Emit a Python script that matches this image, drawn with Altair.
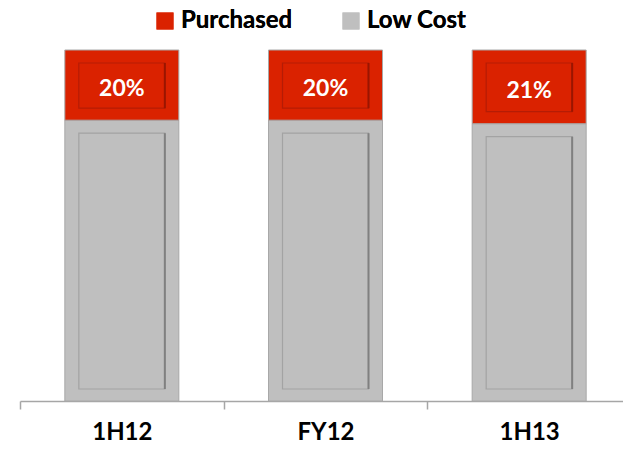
import altair as alt
import pandas as pd

categories = ["1H12", "FY12", "1H13"]
purchased = [0.20, 0.20, 0.21]
low_cost = [0.80, 0.80, 0.79]
series_names = ["Purchased", "Low Cost"]
fill_colors = ["#DA2200", "#BFBFBF"]
inner_stroke = ["#B51C05", "#A3A3A3"]
shadow_colors = ["#9A1500", "#808080"]

rows = []
for c, p, l in zip(categories, purchased, low_cost):
    rows.append({"cat": c, "series": "Low Cost", "start": 0.0, "end": l, "value": l})
    rows.append({"cat": c, "series": "Purchased", "start": l, "end": l + p, "value": p})
df = pd.DataFrame(rows)

FONT = "Lato"

x = alt.X("cat:N", sort=categories, title=None,
          scale=alt.Scale(range=[0, 611], paddingInner=0, paddingOuter=0),
          axis=alt.Axis(labelAngle=0, labelFont=FONT, labelFontWeight="bold",
                        labelFontSize=24, labelColor="#000000", labelPadding=11,
                        domainColor="#A6A6A6", domainWidth=1.5, tickColor="#A6A6A6",
                        tickWidth=1.5, tickSize=8, tickBand="extent"))
y = alt.Y("end:Q", scale=alt.Scale(domain=[0, 1], nice=False, zero=True), axis=None)
y2 = alt.Y2("start:Q")
color = alt.Color("series:N",
                  scale=alt.Scale(domain=series_names, range=fill_colors),
                  legend=alt.Legend(orient="none", legendX=133, legendY=-41,
                                    direction="horizontal", title=None,
                                    symbolType="square", symbolSize=289,
                                    symbolStrokeWidth=0, labelOffset=4,
                                    columnPadding=46, padding=0,
                                    labelFont=FONT, labelFontWeight="bold",
                                    labelFontSize=24, labelColor="#000000"))

base = alt.Chart(df)

outer = base.mark_bar(width=114, stroke="#A8A8A8", strokeWidth=1).encode(
    x=x, y=y, y2=y2, color=color)

inner = base.mark_bar(width=86, yOffset=13, y2Offset=-12, strokeWidth=1.2).encode(
    x=x, y=y, y2=y2, color=color,
    stroke=alt.Stroke("series:N", scale=alt.Scale(domain=series_names, range=inner_stroke), legend=None))

shadow = base.mark_rule(xOffset=43, yOffset=13, y2Offset=-12, strokeWidth=2).encode(
    x=x, y=y, y2=y2,
    color=alt.Color("series:N", scale=alt.Scale(domain=series_names, range=shadow_colors), legend=None))

labels = base.transform_filter(alt.datum.series == "Purchased").transform_calculate(
    mid="(datum.start + datum.end) / 2").mark_text(
    font=FONT, fontWeight="bold", fontSize=23, color="white", baseline="middle", dy=4
).encode(x=x, y=alt.Y("mid:Q"), text=alt.Text("value:Q", format=".0%"))

chart = alt.layer(outer, inner, shadow, labels).resolve_scale(color="independent").properties(
    width=603, height=351,
    padding={"left": 12, "top": 42, "right": 0, "bottom": 44},
    autosize=alt.AutoSizeParams(type="none"),
).configure_view(stroke=None)

chart.save("out.html", embed_options={"renderer": "svg", "actions": False})
